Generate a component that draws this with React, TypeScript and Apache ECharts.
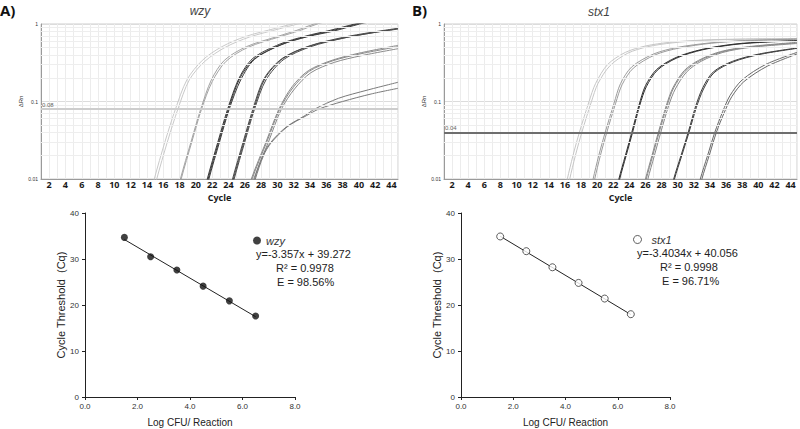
import React, { useEffect, useRef } from "react";
import * as echarts from "echarts";

// ---------- Top panels: amplification plots [cycle, ΔRn] ----------
const wzyG1a = [[14.6,0.007],[14.9,0.01],[16.2,0.03],[17.5,0.08],[18.9,0.19],[20.8,0.34],[23.2,0.51],[26.1,0.69],[29.8,0.88],[31.8,1.0],[33.4,1.1]];
const wzyG1b = [[14.9,0.007],[15.2,0.01],[16.5,0.03],[17.8,0.08],[19.2,0.19],[21.1,0.33],[23.6,0.5],[26.6,0.68],[30.3,0.87],[32.5,1.0],[34.2,1.1]];
const wzyG2a = [[17.8,0.007],[18.1,0.01],[19.4,0.03],[20.6,0.08],[21.9,0.19],[23.5,0.34],[26.2,0.51],[30.0,0.69],[32.4,0.83],[34.5,1.0],[36.0,1.1]];
const wzyG2b = [[17.9,0.007],[18.2,0.01],[19.5,0.03],[20.7,0.08],[22.0,0.18],[23.7,0.33],[26.4,0.5],[30.2,0.68],[32.7,0.82],[34.9,1.0],[36.4,1.1]];
const wzyG3a = [[21.1,0.007],[21.4,0.01],[22.7,0.03],[23.9,0.08],[25.3,0.2],[27.0,0.36],[30.3,0.55],[33.5,0.7],[36.5,0.83],[39.5,1.0],[41.0,1.08]];
const wzyG3b = [[21.2,0.007],[21.5,0.01],[22.8,0.03],[24.0,0.08],[25.4,0.2],[27.1,0.35],[30.4,0.54],[33.6,0.69],[36.7,0.82],[39.8,1.0],[41.3,1.08]];
const wzyG3c = [[21.3,0.007],[21.6,0.01],[22.9,0.03],[24.1,0.08],[25.5,0.19],[27.2,0.35],[30.5,0.54],[33.8,0.69],[36.9,0.81],[40.1,1.0],[41.6,1.08]];
const wzyG4a = [[24.2,0.007],[24.5,0.01],[25.8,0.03],[27.0,0.08],[28.4,0.2],[30.6,0.36],[33.9,0.52],[38.0,0.67],[41.5,0.78],[44.8,0.88]];
const wzyG4b = [[24.3,0.007],[24.6,0.01],[25.9,0.03],[27.1,0.08],[28.5,0.2],[30.7,0.36],[34.0,0.52],[38.1,0.66],[41.6,0.77],[44.8,0.87]];
const wzyG4c = [[24.4,0.007],[24.7,0.01],[26.0,0.03],[27.2,0.08],[28.6,0.19],[30.8,0.35],[34.1,0.51],[38.2,0.66],[41.7,0.77],[44.8,0.86]];
const wzyG5a = [[26.5,0.007],[26.8,0.01],[28.6,0.03],[30.2,0.08],[31.8,0.155],[33.8,0.25],[36.7,0.34],[40.0,0.42],[44.8,0.53]];
const wzyG5b = [[26.6,0.007],[26.9,0.01],[28.7,0.03],[30.3,0.08],[31.9,0.15],[33.9,0.245],[36.8,0.335],[40.1,0.41],[44.8,0.51]];
const wzyG5c = [[26.8,0.007],[27.1,0.01],[28.9,0.03],[30.5,0.08],[32.1,0.145],[34.1,0.235],[37.0,0.32],[40.3,0.39],[44.8,0.48]];
const wzyG6a = [[26.9,0.007],[27.2,0.01],[28.2,0.02],[29.1,0.029],[31.1,0.047],[33.4,0.066],[34.6,0.08],[37.5,0.11],[41.0,0.14],[44.8,0.177]];
const wzyG6b = [[27.0,0.007],[27.3,0.01],[28.3,0.02],[29.2,0.029],[31.2,0.047],[33.6,0.066],[35.1,0.08],[38.0,0.1],[41.5,0.125],[44.8,0.148]];

const stx1G1a = [[16.0,0.007],[16.3,0.01],[17.0,0.02],[17.8,0.04],[19.0,0.1],[19.8,0.17],[21.3,0.3],[23.5,0.43],[26.0,0.52],[29.0,0.58],[33.0,0.62],[38.0,0.64],[44.8,0.65]];
const stx1G1b = [[16.3,0.007],[16.6,0.01],[17.3,0.02],[18.1,0.04],[19.3,0.1],[20.1,0.17],[21.6,0.29],[23.8,0.42],[26.3,0.51],[29.3,0.57],[33.3,0.615],[38.3,0.635],[44.8,0.645]];
const stx1G2a = [[19.2,0.007],[19.5,0.01],[20.2,0.02],[21.0,0.04],[22.1,0.095],[22.9,0.17],[24.3,0.28],[27.0,0.41],[30.0,0.5],[34.0,0.57],[38.0,0.61],[44.8,0.64]];
const stx1G2b = [[19.4,0.007],[19.7,0.01],[20.4,0.02],[21.2,0.04],[22.3,0.095],[23.1,0.165],[24.5,0.27],[27.2,0.4],[30.2,0.49],[34.2,0.565],[38.2,0.605],[44.8,0.635]];
const stx1G3a = [[22.4,0.007],[22.7,0.01],[23.5,0.02],[24.3,0.04],[25.2,0.09],[26.0,0.16],[27.4,0.26],[29.8,0.37],[33.0,0.47],[37.0,0.55],[41.0,0.59],[44.8,0.61]];
const stx1G3b = [[22.5,0.007],[22.8,0.01],[23.6,0.02],[24.4,0.04],[25.3,0.09],[26.1,0.155],[27.5,0.255],[29.9,0.365],[33.1,0.465],[37.1,0.545],[41.1,0.585],[44.8,0.605]];
const stx1G4a = [[25.7,0.007],[26.0,0.01],[26.8,0.02],[27.6,0.04],[28.6,0.09],[29.4,0.15],[30.8,0.25],[32.6,0.34],[35.3,0.44],[38.8,0.51],[44.8,0.58]];
const stx1G4b = [[25.8,0.007],[26.1,0.01],[26.9,0.02],[27.7,0.04],[28.7,0.09],[29.5,0.15],[30.9,0.245],[32.7,0.335],[35.4,0.435],[38.9,0.505],[44.8,0.57]];
const stx1G4c = [[26.0,0.007],[26.3,0.01],[27.1,0.02],[27.9,0.04],[28.9,0.09],[29.7,0.145],[31.1,0.24],[32.9,0.33],[35.6,0.43],[39.1,0.5],[44.8,0.56]];
const stx1G5a = [[29.2,0.007],[29.5,0.01],[30.4,0.02],[31.3,0.04],[32.2,0.085],[33.1,0.15],[34.4,0.24],[36.8,0.33],[40.1,0.41],[44.8,0.49]];
const stx1G5b = [[29.3,0.007],[29.6,0.01],[30.5,0.02],[31.4,0.04],[32.3,0.083],[33.2,0.145],[34.5,0.235],[36.9,0.325],[40.2,0.405],[44.8,0.485]];
const stx1G6a = [[32.5,0.007],[32.8,0.01],[33.7,0.02],[34.6,0.04],[35.6,0.075],[36.5,0.12],[38.0,0.19],[40.9,0.3],[44.8,0.43]];
const stx1G6b = [[32.7,0.007],[33.0,0.01],[33.9,0.02],[34.8,0.04],[35.8,0.073],[36.7,0.115],[38.2,0.18],[41.1,0.285],[44.8,0.41]];

const cycleMin = 1;
const cycleMax = 44.8;
const rnMin = 0.01;
const rnMax = 1;
const rnMinorGrid = [0.02, 0.03, 0.04, 0.05, 0.06, 0.07, 0.08, 0.09, 0.2, 0.3, 0.4, 0.5, 0.6, 0.7, 0.8, 0.9];
const wzyThreshold = 0.08;
const stx1Threshold = 0.04;

// ---------- Bottom panels: standard curves ----------
const logCfu = [1.5, 2.5, 3.5, 4.5, 5.5, 6.5];
const wzyCq = [34.7, 30.5, 27.6, 24.1, 20.9, 17.6];
const stx1Cq = [34.9, 31.7, 28.2, 24.8, 21.4, 18.0];
const wzySlope = -3.357;
const wzyIntercept = 39.272;
const wzyR2 = "0.9978";
const wzyEff = "98.56%";
const stx1Slope = -3.4034;
const stx1Intercept = 40.056;
const stx1R2 = "0.9998";
const stx1Eff = "96.71%";

const wzyColors = ["#c9c9c9", "#c9c9c9", "#a3a3a3", "#a3a3a3", "#3a3a3a", "#3a3a3a", "#3a3a3a", "#4a4a4a", "#4a4a4a", "#4a4a4a", "#8a8a8a", "#8a8a8a", "#8a8a8a", "#7a7a7a", "#7a7a7a"];
const wzyCurves = [wzyG1a, wzyG1b, wzyG2a, wzyG2b, wzyG3a, wzyG3b, wzyG3c, wzyG4a, wzyG4b, wzyG4c, wzyG5a, wzyG5b, wzyG5c, wzyG6a, wzyG6b];
const stx1Colors = ["#c6c6c6", "#c6c6c6", "#9c9c9c", "#9c9c9c", "#2e2e2e", "#2e2e2e", "#8a8a8a", "#8a8a8a", "#8a8a8a", "#3c3c3c", "#3c3c3c", "#6a6a6a", "#6a6a6a"];
const stx1Curves = [stx1G1a, stx1G1b, stx1G2a, stx1G2b, stx1G3a, stx1G3b, stx1G4a, stx1G4b, stx1G4c, stx1G5a, stx1G5b, stx1G6a, stx1G6b];

const SANS = "'Liberation Sans', Arial, sans-serif";
const OPEN = "'Open Sans', 'Noto Sans', sans-serif";

function ampXAxis(gridIndex: number) {
  return {
    gridIndex, type: "value", min: cycleMin, max: cycleMax, interval: 1,
    axisLine: { show: true, lineStyle: { color: "#9a9a9a", width: 1 } },
    axisTick: { show: false },
    axisLabel: {
      formatter: (v: number) => (v % 2 === 0 ? String(v) : ""),
      fontSize: 9, lineHeight: 9, fontWeight: "bold", color: "#1a1a1a", fontFamily: OPEN, margin: 1,
    },
    splitLine: { show: true, lineStyle: { color: "#ececec", width: 1 } },
    name: "Cycle", nameLocation: "middle", nameGap: 14,
    nameTextStyle: { fontSize: 9, lineHeight: 9, fontWeight: "bold", color: "#1a1a1a", fontFamily: OPEN, verticalAlign: "top" },
  };
}
function ampYAxis(gridIndex: number) {
  return {
    gridIndex, type: "log", logBase: 10, min: rnMin, max: rnMax,
    axisLine: { show: true, lineStyle: { color: "#9a9a9a", width: 1 } },
    axisTick: { show: false },
    axisLabel: { formatter: (v: number) => String(Number(v.toPrecision(2))), fontSize: 5, color: "#333", fontFamily: SANS, margin: 3 },
    splitLine: { show: true, lineStyle: { color: "#dcdcdc", width: 1 } },
    name: "ΔRn", nameLocation: "middle", nameGap: 17, nameRotate: 90,
    nameTextStyle: { fontSize: 6, color: "#333", fontFamily: SANS },
  };
}
function stdXAxis(gridIndex: number) {
  return {
    gridIndex, type: "value", min: 0, max: 8, interval: 2,
    axisLine: { show: true, lineStyle: { color: "#222", width: 1 } },
    axisTick: { show: true, length: 3, lineStyle: { color: "#222" } },
    axisLabel: { formatter: (v: number) => v.toFixed(1), fontSize: 8, color: "#333", fontFamily: SANS, margin: 5 },
    splitLine: { show: false },
    name: "Log CFU/ Reaction", nameLocation: "middle", nameGap: 20,
    nameTextStyle: { fontSize: 10, color: "#222", fontFamily: SANS },
  };
}
function stdYAxis(gridIndex: number) {
  return {
    gridIndex, type: "value", min: 0, max: 40, interval: 10,
    axisLine: { show: true, lineStyle: { color: "#222", width: 1 } },
    axisTick: { show: true, length: 3, lineStyle: { color: "#222" } },
    axisLabel: { fontSize: 8, color: "#333", fontFamily: SANS, margin: 6 },
    splitLine: { show: false },
    name: "Cycle Threshold  (Cq)", nameLocation: "middle", nameGap: 18, nameRotate: 90,
    nameTextStyle: { fontSize: 11, color: "#222", fontFamily: SANS },
  };
}

function ampSeries(curves: number[][][], colors: string[], idx: number, threshold: number, thrColor: string) {
  const out: any[] = curves.map((d, i) => ({
    type: "line", xAxisIndex: idx, yAxisIndex: idx, data: d, smooth: 0.3,
    showSymbol: false, symbol: "none", clip: true, silent: true,
    lineStyle: { color: colors[i], width: 1 }, z: 3,
  }));
  out.push({
    type: "line", xAxisIndex: idx, yAxisIndex: idx, data: [[cycleMin, 0.005]], symbol: "none", silent: true, clip: true,
    lineStyle: { width: 0 }, z: 1,
    markLine: {
      silent: true, symbol: ["none", "none"], label: { show: false },
      lineStyle: { color: "#eeeeee", width: 1, type: "solid" },
      data: rnMinorGrid.map((v) => ({ yAxis: v })),
    },
  });
  out.push({
    type: "line", xAxisIndex: idx, yAxisIndex: idx, data: [[cycleMin, 0.005]], symbol: "none", silent: true, clip: true,
    lineStyle: { width: 0 }, z: 2,
    markLine: {
      silent: true, symbol: ["none", "none"],
      label: { show: true, position: "insideStartTop", formatter: String(threshold), fontSize: 6, color: "#666", fontFamily: SANS, distance: 1 },
      lineStyle: { color: thrColor, width: 2, type: "solid" },
      data: [{ yAxis: threshold }],
    },
  });
  return out;
}

function stdSeries(name: string, cq: number[], slope: number, intercept: number, idx: number, filled: boolean) {
  const x0 = logCfu[0];
  const x1 = logCfu[logCfu.length - 1];
  return [
    {
      type: "line", xAxisIndex: idx, yAxisIndex: idx, symbol: "none", silent: true,
      data: [[x0, slope * x0 + intercept], [x1, slope * x1 + intercept]],
      lineStyle: { color: "#222", width: 1 }, z: 2,
    },
    {
      name, type: "scatter", xAxisIndex: idx, yAxisIndex: idx, symbol: "circle", symbolSize: 7,
      data: logCfu.map((x, i) => [x, cq[i]]),
      itemStyle: filled ? { color: "#111" } : { color: "#fff", borderColor: "#333", borderWidth: 1 },
      z: 3,
    },
  ];
}

function textEl(text: string, x: number, y: number, extra: any = {}) {
  return {
    type: "text", x, y, silent: true,
    style: { text, fontSize: 11, fontFamily: SANS, fill: "#222", align: "left", verticalAlign: "middle", ...extra },
  };
}

export default function App() {
  const ref = useRef<HTMLDivElement>(null);
  useEffect(() => {
    if (!ref.current) return;
    const chart = echarts.init(ref.current, null, { renderer: "svg" });
    const option: any = {
      animation: false,
      backgroundColor: "#ffffff",
      grid: [
        { left: 41, top: 24, width: 357, height: 155, show: true, borderColor: "#cfcfcf", borderWidth: 1, containLabel: false },
        { left: 444, top: 24, width: 356, height: 155, show: true, borderColor: "#cfcfcf", borderWidth: 1, containLabel: false },
        { left: 85, top: 213, width: 210, height: 184, containLabel: false },
        { left: 461, top: 213, width: 209, height: 184, containLabel: false },
      ],
      xAxis: [ampXAxis(0), ampXAxis(1), stdXAxis(2), stdXAxis(3)],
      yAxis: [ampYAxis(0), ampYAxis(1), stdYAxis(2), stdYAxis(3)],
      legend: [
        {
          data: ["wzy"], left: 253, top: 235, itemWidth: 8, itemHeight: 8, icon: "circle", padding: 0, selectedMode: false,
          textStyle: { fontSize: 11, fontStyle: "italic", color: "#333", fontFamily: SANS },
        },
        {
          data: ["stx1"], left: 633, top: 234, itemWidth: 8, itemHeight: 8, icon: "circle", padding: 0, selectedMode: false,
          itemStyle: { borderWidth: 1 },
          textStyle: { fontSize: 11, fontStyle: "italic", color: "#333", fontFamily: SANS, padding: [0, 0, 0, 5] },
        },
      ],
      series: [
        ...ampSeries(wzyCurves, wzyColors, 0, wzyThreshold, "#cdcdcd"),
        ...ampSeries(stx1Curves, stx1Colors, 1, stx1Threshold, "#6e6e6e"),
        ...stdSeries("wzy", wzyCq, wzySlope, wzyIntercept, 2, true),
        ...stdSeries("stx1", stx1Cq, stx1Slope, stx1Intercept, 3, false),
      ],
      graphic: [
        textEl("A)", 0, 10, { fontSize: 15, fontWeight: "bold", fill: "#111", fontFamily: OPEN }),
        textEl("B)", 412, 10, { fontSize: 15, fontWeight: "bold", fill: "#111", fontFamily: OPEN }),
        textEl("wzy", 200, 11, { fontSize: 12, fontStyle: "italic", fill: "#444", align: "center" }),
        textEl("stx1", 599, 12, { fontSize: 12, fontStyle: "italic", fill: "#444", align: "center" }),
        textEl(`y=${wzySlope}x + ${wzyIntercept}`, 256, 254),
        textEl(`R² = ${wzyR2}`, 276, 268),
        textEl(`E = ${wzyEff}`, 277, 282),
        textEl(`y=${stx1Slope}x + ${stx1Intercept}`, 637, 253),
        textEl(`R² = ${stx1R2}`, 660, 267),
        textEl(`E = ${stx1Eff}`, 662, 281),
      ],
    };
    chart.setOption(option);
    return () => chart.dispose();
  }, []);
  return <div ref={ref} style={{ position: "fixed", left: 0, top: 0, width: 800, height: 429 }} />;
}
